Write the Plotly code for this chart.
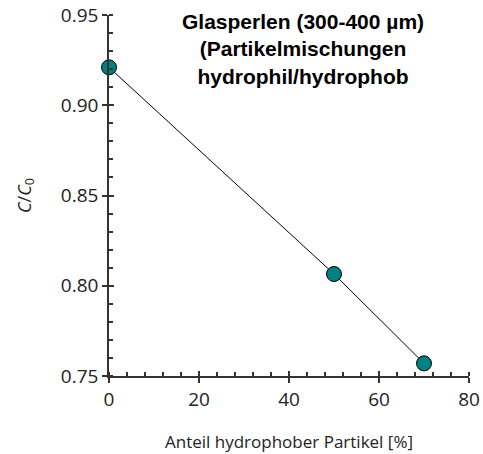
import plotly.graph_objects as go

x_vals = [0, 50, 70]
y_vals = [0.921, 0.8065, 0.757]
x_ticks = [0, 20, 40, 60, 80]
y_ticks = [0.75, 0.80, 0.85, 0.90, 0.95]
title_lines = ["Glasperlen (300-400 µm)", "(Partikelmischungen", "hydrophil/hydrophob"]
x_title = "Anteil hydrophober Partikel [%]"
y_title = "<i>C</i>/<i>C</i><sub>0</sub>"

tick_font = dict(family="Open Sans", size=19, color="#222")

fig = go.Figure()
fig.add_trace(go.Scatter(
    x=x_vals, y=y_vals, mode="lines+markers",
    line=dict(color="black", width=1),
    marker=dict(size=15, color="#008080", line=dict(color="black", width=1)),
    cliponaxis=False, showlegend=False,
))
# invisible trace on overlay axes for inside part of major ticks
fig.add_trace(go.Scatter(x=[0], y=[0.75], xaxis="x2", yaxis="y2", mode="markers",
                         marker=dict(opacity=0), showlegend=False, hoverinfo="skip"))

common = dict(showgrid=False, zeroline=False, showline=True, linecolor="#333", linewidth=1.5,
              tickcolor="#333", tickwidth=1.5, tickfont=tick_font, automargin=False,
              ticklabeloverflow="allow")
fig.update_layout(
    width=483, height=454,
    margin=dict(l=109, r=14, t=15, b=78),
    plot_bgcolor="white", paper_bgcolor="white",
    xaxis=dict(range=[0, 80], tickvals=x_ticks, ticks="outside", ticklen=5,
               minor=dict(dtick=4, tick0=0, ticks="inside", ticklen=4, tickcolor="#333", tickwidth=1.5),
               title=dict(text=x_title, font=dict(family="Open Sans", size=17, color="#222"), standoff=26),
               **common),
    yaxis=dict(range=[0.75, 0.95], tickvals=y_ticks, tickformat=".2f", ticks="outside", ticklen=5,
               minor=dict(dtick=0.01, tick0=0.75, ticks="inside", ticklen=4, tickcolor="#333", tickwidth=1.5),
               title=dict(text=y_title, font=dict(family="Open Sans", size=18, color="#222"), standoff=25),
               **common),
    xaxis2=dict(range=[0, 80], overlaying="x", tickvals=x_ticks, ticks="inside", ticklen=5,
                showticklabels=False, showgrid=False, zeroline=False, showline=False,
                tickcolor="#333", tickwidth=1.5, anchor="y2"),
    yaxis2=dict(range=[0.75, 0.95], overlaying="y", tickvals=y_ticks, ticks="inside", ticklen=5,
                showticklabels=False, showgrid=False, zeroline=False, showline=False,
                tickcolor="#333", tickwidth=1.5, anchor="x2"),
    annotations=[dict(text="<b>" + "<br>".join(title_lines) + "</b>", x=0.54, y=1.02,
                      xref="paper", yref="paper",
                      xanchor="center", yanchor="top", showarrow=False, align="center",
                      font=dict(family="Liberation Sans", size=21, color="black"))],
)
# remove the browser's default body margin so the 483x454 figure fills the window exactly
fig.write_html("out.html", config={"displayModeBar": False},
               post_script="document.body.style.margin='0';document.documentElement.style.overflow='hidden';")
